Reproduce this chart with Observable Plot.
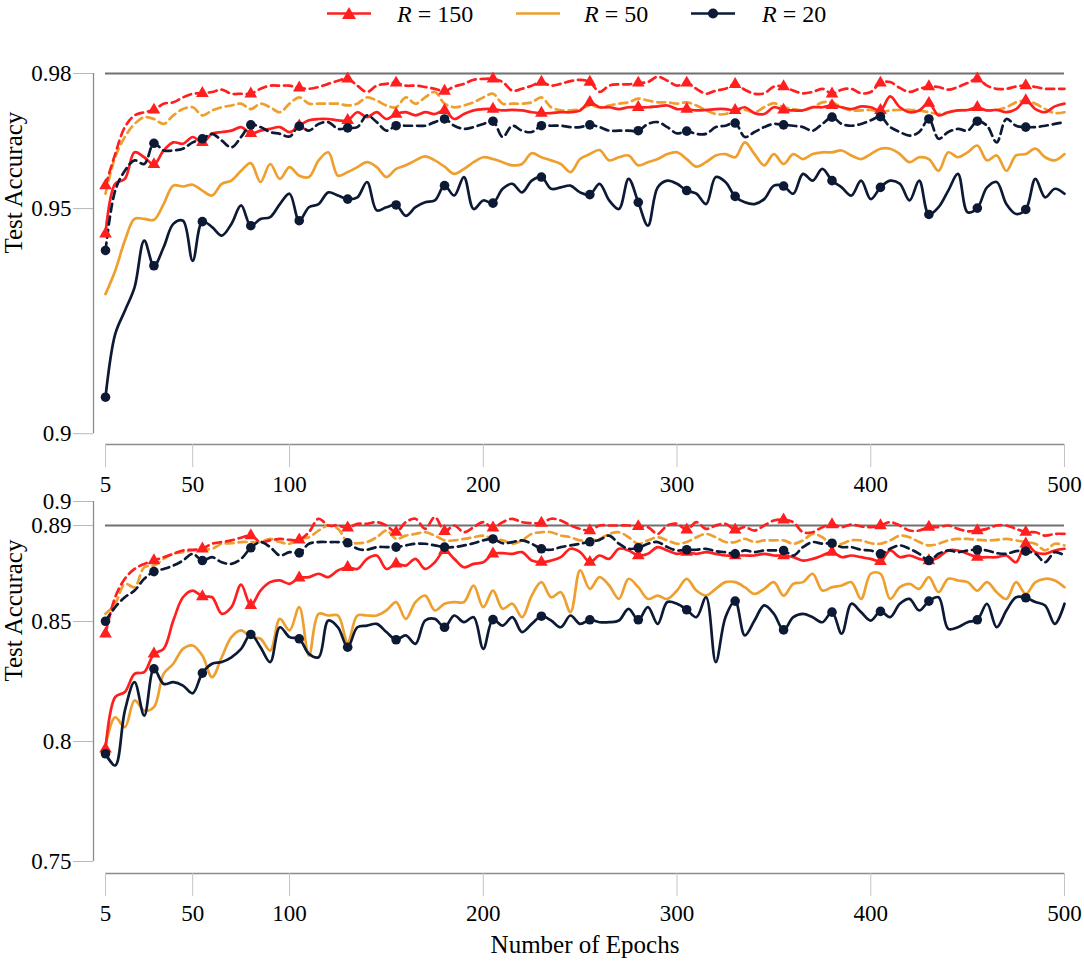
<!DOCTYPE html>
<html><head><meta charset="utf-8">
<script src="https://cdn.jsdelivr.net/npm/d3@7"></script>
<script src="https://cdn.jsdelivr.net/npm/@observablehq/plot@0.6"></script>
<style>
body{margin:0;background:#fff;}
#wrap{position:relative;width:1084px;height:965px;font-family:"Liberation Serif",serif;overflow:hidden;}
#legend{position:absolute;top:0;left:0;width:1084px;height:30px;}
.lg{position:absolute;top:0;height:28px;font-size:24px;line-height:28px;color:#000;white-space:nowrap;}
.sw{position:absolute;top:0;}
#top,#bot{position:absolute;left:0;}
#top{top:40px;}
#bot{top:480px;}
</style></head>
<body><div id="wrap"><div id="legend"></div><div id="top"></div><div id="bot"></div></div>
<script>
const epochs = [5,10,15,20,25,30,35,40,45,50,55,60,65,70,75,80,85,90,95,100,
105,110,115,120,125,130,135,140,145,150,155,160,165,170,175,180,185,190,195,200,
205,210,215,220,225,230,235,240,245,250,255,260,265,270,275,280,285,290,295,300,
305,310,315,320,325,330,335,340,345,350,355,360,365,370,375,380,385,390,395,400,
405,410,415,420,425,430,435,440,445,450,455,460,465,470,475,480,485,490,495,500];
const markerEpochs = [5,30,55,80,105,130,155,180,205,230,255,280,305,330,355,380,405,430,455,480];
const xTicks = [5,50,100,200,300,400,500];
const topYTicks = [0.9,0.95,0.98];
const botYTicks = [0.75,0.8,0.85,0.89,0.9];
const topRef = 0.98;
const botRef = 0.89;
const rValues = [150,50,20];
const rColors = ["#ff1f1f","#ee9f2d","#0d1a35"];
const rSymbols = ["triangle",null,"circle"];

// Top panel (upper chart)
const top150Dashed = [0.9551,0.9621,0.9681,0.9707,0.9714,0.9719,0.9733,0.9736,0.9747,0.9755,
0.9756,0.9759,0.9764,0.9755,0.9755,0.9755,0.9766,0.9773,0.9773,0.9773,
0.9768,0.9766,0.9770,0.9777,0.9784,0.9788,0.9773,0.9759,0.9773,0.9777,
0.9779,0.9773,0.9773,0.9770,0.9766,0.9761,0.9771,0.9777,0.9786,0.9788,
0.9788,0.9781,0.9762,0.9766,0.9773,0.9781,0.9773,0.9777,0.9783,0.9786,
0.9781,0.9759,0.9773,0.9776,0.9776,0.9779,0.9781,0.9793,0.9784,0.9773,
0.9779,0.9766,0.9755,0.9762,0.9766,0.9776,0.9764,0.9755,0.9756,0.9771,
0.9771,0.9762,0.9756,0.9759,0.9766,0.9755,0.9764,0.9766,0.9756,0.9759,
0.9779,0.9781,0.9768,0.9759,0.9766,0.9771,0.9770,0.9764,0.9770,0.9779,
0.9788,0.9773,0.9766,0.9766,0.9771,0.9773,0.9770,0.9766,0.9766,0.9766];
const top150Solid = [0.9444,0.9555,0.9566,0.9625,0.9614,0.9598,0.9629,0.9647,0.9644,0.9659,
0.9647,0.9666,0.9670,0.9673,0.9681,0.9667,0.9673,0.9677,0.9681,0.9670,
0.9684,0.9696,0.9699,0.9699,0.9696,0.9696,0.9714,0.9703,0.9714,0.9699,
0.9710,0.9714,0.9707,0.9714,0.9710,0.9718,0.9699,0.9710,0.9718,0.9721,
0.9721,0.9718,0.9719,0.9718,0.9714,0.9712,0.9712,0.9714,0.9714,0.9718,
0.9736,0.9725,0.9725,0.9721,0.9725,0.9725,0.9725,0.9727,0.9729,0.9721,
0.9721,0.9718,0.9719,0.9721,0.9721,0.9718,0.9725,0.9712,0.9710,0.9725,
0.9719,0.9718,0.9718,0.9725,0.9725,0.9729,0.9725,0.9721,0.9727,0.9725,
0.9718,0.9749,0.9725,0.9714,0.9718,0.9734,0.9707,0.9714,0.9718,0.9719,
0.9725,0.9718,0.9719,0.9714,0.9721,0.9740,0.9721,0.9714,0.9727,0.9733];
const top50Dashed = [0.9533,0.9614,0.9659,0.9688,0.9703,0.9699,0.9688,0.9707,0.9721,0.9725,
0.9707,0.9718,0.9725,0.9729,0.9733,0.9721,0.9733,0.9725,0.9714,0.9733,
0.9747,0.9733,0.9733,0.9733,0.9733,0.9729,0.9733,0.9747,0.9740,0.9729,
0.9725,0.9747,0.9733,0.9747,0.9759,0.9733,0.9725,0.9729,0.9736,0.9747,
0.9755,0.9733,0.9733,0.9733,0.9736,0.9747,0.9725,0.9718,0.9718,0.9721,
0.9729,0.9725,0.9729,0.9733,0.9736,0.9744,0.9740,0.9736,0.9736,0.9733,
0.9736,0.9729,0.9718,0.9710,0.9710,0.9719,0.9719,0.9714,0.9725,0.9734,
0.9725,0.9721,0.9718,0.9725,0.9736,0.9736,0.9725,0.9718,0.9718,0.9719,
0.9714,0.9718,0.9719,0.9719,0.9718,0.9714,0.9710,0.9714,0.9718,0.9719,
0.9721,0.9718,0.9719,0.9725,0.9736,0.9740,0.9733,0.9721,0.9712,0.9714];
const top50Solid = [0.9310,0.9362,0.9429,0.9477,0.9477,0.9475,0.9510,0.9551,0.9549,0.9553,
0.9540,0.9529,0.9555,0.9562,0.9584,0.9601,0.9559,0.9599,0.9566,0.9592,
0.9573,0.9570,0.9607,0.9625,0.9573,0.9581,0.9592,0.9603,0.9592,0.9570,
0.9588,0.9596,0.9607,0.9616,0.9607,0.9593,0.9577,0.9588,0.9603,0.9614,
0.9610,0.9603,0.9596,0.9599,0.9623,0.9614,0.9607,0.9599,0.9581,0.9610,
0.9621,0.9630,0.9607,0.9614,0.9618,0.9596,0.9603,0.9610,0.9621,0.9625,
0.9610,0.9593,0.9603,0.9618,0.9621,0.9614,0.9647,0.9621,0.9596,0.9621,
0.9599,0.9621,0.9610,0.9621,0.9625,0.9625,0.9629,0.9618,0.9610,0.9621,
0.9633,0.9633,0.9621,0.9603,0.9614,0.9610,0.9584,0.9625,0.9614,0.9625,
0.9640,0.9607,0.9618,0.9584,0.9618,0.9621,0.9633,0.9614,0.9607,0.9621];
const top20Dashed = [0.9407,0.9540,0.9584,0.9607,0.9599,0.9645,0.9629,0.9629,0.9633,0.9647,
0.9655,0.9666,0.9651,0.9636,0.9659,0.9686,0.9681,0.9670,0.9666,0.9660,
0.9683,0.9673,0.9688,0.9692,0.9677,0.9679,0.9681,0.9707,0.9692,0.9673,
0.9684,0.9684,0.9684,0.9684,0.9692,0.9699,0.9684,0.9677,0.9681,0.9688,
0.9694,0.9659,0.9684,0.9673,0.9670,0.9684,0.9684,0.9684,0.9681,0.9681,
0.9686,0.9681,0.9673,0.9673,0.9673,0.9673,0.9688,0.9692,0.9681,0.9667,
0.9672,0.9666,0.9666,0.9681,0.9684,0.9690,0.9659,0.9670,0.9681,0.9688,
0.9686,0.9684,0.9681,0.9673,0.9688,0.9703,0.9688,0.9684,0.9688,0.9696,
0.9704,0.9681,0.9670,0.9662,0.9670,0.9699,0.9655,0.9670,0.9677,0.9673,
0.9694,0.9684,0.9647,0.9699,0.9684,0.9681,0.9681,0.9684,0.9688,0.9692];
const top20Solid = [0.9081,0.9221,0.9273,0.9325,0.9429,0.9373,0.9414,0.9466,0.9473,0.9384,
0.9471,0.9459,0.9440,0.9466,0.9507,0.9462,0.9477,0.9481,0.9510,0.9533,
0.9473,0.9503,0.9510,0.9536,0.9529,0.9521,0.9525,0.9559,0.9496,0.9503,
0.9508,0.9484,0.9503,0.9514,0.9518,0.9551,0.9529,0.9570,0.9499,0.9518,
0.9512,0.9544,0.9555,0.9536,0.9562,0.9570,0.9544,0.9547,0.9551,0.9536,
0.9531,0.9555,0.9518,0.9499,0.9566,0.9514,0.9462,0.9547,0.9562,0.9555,
0.9540,0.9533,0.9510,0.9570,0.9559,0.9527,0.9514,0.9510,0.9521,0.9551,
0.9550,0.9533,0.9577,0.9562,0.9588,0.9562,0.9547,0.9529,0.9562,0.9521,
0.9547,0.9562,0.9555,0.9518,0.9562,0.9487,0.9503,0.9540,0.9577,0.9492,
0.9501,0.9547,0.9559,0.9510,0.9488,0.9498,0.9566,0.9525,0.9544,0.9533];

// Bottom panel (lower chart)
const bot150Dashed = [0.8449,0.8601,0.8678,0.8719,0.8740,0.8754,0.8768,0.8782,0.8796,0.8799,
0.8803,0.8824,0.8831,0.8838,0.8849,0.8858,0.8831,0.8838,0.8844,0.8840,
0.8840,0.8872,0.8928,0.8900,0.8900,0.8890,0.8907,0.8907,0.8914,0.8900,
0.8872,0.8914,0.8928,0.8886,0.8935,0.8876,0.8900,0.8872,0.8893,0.8914,
0.8890,0.8914,0.8928,0.8914,0.8910,0.8910,0.8928,0.8921,0.8900,0.8886,
0.8879,0.8900,0.8900,0.8900,0.8900,0.8896,0.8893,0.8865,0.8900,0.8907,
0.8882,0.8914,0.8886,0.8900,0.8907,0.8882,0.8893,0.8879,0.8900,0.8921,
0.8924,0.8914,0.8872,0.8872,0.8893,0.8904,0.8893,0.8904,0.8896,0.8893,
0.8900,0.8914,0.8900,0.8879,0.8879,0.8893,0.8893,0.8900,0.8886,0.8876,
0.8879,0.8886,0.8900,0.8900,0.8886,0.8872,0.8872,0.8858,0.8865,0.8865];
const bot150Solid = [0.7969,0.8185,0.8206,0.8282,0.8289,0.8365,0.8386,0.8504,0.8601,0.8629,
0.8604,0.8601,0.8532,0.8560,0.8654,0.8567,0.8629,0.8664,0.8671,0.8657,
0.8682,0.8685,0.8699,0.8685,0.8713,0.8726,0.8719,0.8761,0.8775,0.8719,
0.8740,0.8733,0.8761,0.8719,0.8747,0.8796,0.8761,0.8726,0.8740,0.8747,
0.8782,0.8785,0.8782,0.8789,0.8754,0.8747,0.8754,0.8768,0.8803,0.8789,
0.8747,0.8775,0.8761,0.8803,0.8796,0.8775,0.8782,0.8810,0.8796,0.8782,
0.8789,0.8782,0.8789,0.8782,0.8775,0.8775,0.8775,0.8775,0.8782,0.8775,
0.8775,0.8768,0.8754,0.8761,0.8775,0.8789,0.8768,0.8775,0.8768,0.8761,
0.8751,0.8796,0.8768,0.8775,0.8761,0.8754,0.8768,0.8796,0.8796,0.8782,
0.8768,0.8768,0.8768,0.8775,0.8747,0.8824,0.8789,0.8782,0.8796,0.8803];
const bot50Dashed = [0.8532,0.8574,0.8657,0.8643,0.8726,0.8733,0.8761,0.8782,0.8789,0.8796,
0.8799,0.8803,0.8824,0.8826,0.8831,0.8831,0.8831,0.8844,0.8831,0.8824,
0.8844,0.8851,0.8879,0.8900,0.8886,0.8831,0.8826,0.8831,0.8851,0.8879,
0.8844,0.8858,0.8865,0.8872,0.8858,0.8838,0.8838,0.8844,0.8851,0.8858,
0.8844,0.8838,0.8824,0.8838,0.8865,0.8872,0.8872,0.8858,0.8851,0.8838,
0.8838,0.8844,0.8865,0.8872,0.8851,0.8824,0.8838,0.8851,0.8838,0.8824,
0.8831,0.8851,0.8865,0.8851,0.8831,0.8831,0.8844,0.8831,0.8838,0.8838,
0.8838,0.8824,0.8838,0.8865,0.8851,0.8817,0.8824,0.8838,0.8838,0.8826,
0.8824,0.8838,0.8858,0.8851,0.8831,0.8817,0.8824,0.8838,0.8844,0.8844,
0.8840,0.8838,0.8840,0.8844,0.8838,0.8831,0.8824,0.8796,0.8824,0.8817];
const bot50Solid = [0.7983,0.8101,0.8060,0.8171,0.8129,0.8143,0.8282,0.8324,0.8386,0.8400,
0.8358,0.8268,0.8351,0.8435,0.8463,0.8435,0.8428,0.8379,0.8511,0.8463,
0.8560,0.8358,0.8532,0.8525,0.8525,0.8414,0.8525,0.8525,0.8525,0.8546,
0.8581,0.8511,0.8581,0.8608,0.8546,0.8574,0.8581,0.8581,0.8650,0.8560,
0.8629,0.8553,0.8574,0.8518,0.8608,0.8664,0.8601,0.8622,0.8539,0.8713,
0.8636,0.8685,0.8650,0.8594,0.8678,0.8643,0.8594,0.8608,0.8594,0.8629,
0.8678,0.8629,0.8608,0.8636,0.8664,0.8664,0.8643,0.8615,0.8636,0.8664,
0.8608,0.8657,0.8664,0.8699,0.8629,0.8643,0.8650,0.8664,0.8594,0.8699,
0.8699,0.8594,0.8643,0.8657,0.8636,0.8685,0.8622,0.8678,0.8671,0.8664,
0.8629,0.8664,0.8622,0.8594,0.8664,0.8615,0.8664,0.8678,0.8671,0.8643];
const bot20Dashed = [0.8501,0.8560,0.8601,0.8629,0.8678,0.8708,0.8719,0.8733,0.8754,0.8782,
0.8754,0.8768,0.8747,0.8740,0.8761,0.8807,0.8831,0.8810,0.8775,0.8789,
0.8786,0.8824,0.8831,0.8831,0.8831,0.8828,0.8803,0.8799,0.8810,0.8810,
0.8810,0.8817,0.8824,0.8824,0.8817,0.8810,0.8810,0.8817,0.8826,0.8838,
0.8844,0.8826,0.8831,0.8838,0.8824,0.8803,0.8799,0.8810,0.8817,0.8824,
0.8832,0.8840,0.8858,0.8824,0.8803,0.8807,0.8824,0.8831,0.8810,0.8796,
0.8799,0.8799,0.8803,0.8793,0.8789,0.8782,0.8796,0.8789,0.8796,0.8796,
0.8796,0.8775,0.8810,0.8831,0.8824,0.8826,0.8810,0.8810,0.8799,0.8796,
0.8782,0.8803,0.8817,0.8803,0.8782,0.8754,0.8782,0.8796,0.8789,0.8796,
0.8799,0.8796,0.8785,0.8782,0.8793,0.8793,0.8782,0.8747,0.8789,0.8775];
const bot20Solid = [0.7949,0.7900,0.8129,0.8247,0.8108,0.8303,0.8240,0.8247,0.8233,0.8201,
0.8285,0.8324,0.8331,0.8351,0.8386,0.8446,0.8393,0.8331,0.8476,0.8435,
0.8428,0.8365,0.8351,0.8504,0.8476,0.8393,0.8476,0.8483,0.8490,0.8456,
0.8424,0.8442,0.8407,0.8504,0.8511,0.8476,0.8525,0.8497,0.8518,0.8386,
0.8508,0.8483,0.8518,0.8456,0.8490,0.8522,0.8504,0.8476,0.8525,0.8490,
0.8507,0.8497,0.8497,0.8504,0.8553,0.8507,0.8560,0.8490,0.8581,0.8574,
0.8549,0.8518,0.8601,0.8331,0.8518,0.8585,0.8442,0.8504,0.8567,0.8532,
0.8465,0.8518,0.8532,0.8518,0.8497,0.8539,0.8449,0.8574,0.8539,0.8504,
0.8542,0.8518,0.8574,0.8594,0.8546,0.8585,0.8601,0.8469,0.8476,0.8497,
0.8507,0.8574,0.8476,0.8546,0.8601,0.8599,0.8581,0.8567,0.8490,0.8574];

const FONT = '"Liberation Serif", "Times New Roman", serif';

// ---------- legend ----------
(function legend(){
  const el = document.getElementById("legend");
  const swLeft = [327, 516, 691];
  const txLeft = [397, 584, 762];
  rValues.forEach((r, i) => {
    const c = rColors[i];
    let mk = "";
    if (rSymbols[i] === "triangle") mk = `<path d="M22,7 L29,19 L15,19 Z" fill="${c}"/>`;
    if (rSymbols[i] === "circle") mk = `<circle cx="22" cy="13.5" r="5" fill="${c}"/>`;
    const sw = document.createElement("div");
    sw.className = "sw";
    sw.style.left = swLeft[i] + "px";
    sw.innerHTML = `<svg width="44" height="28"><line x1="0" y1="13.5" x2="44" y2="13.5" stroke="${c}" stroke-width="2.6"/>${mk}</svg>`;
    el.appendChild(sw);
    const tx = document.createElement("div");
    tx.className = "lg";
    tx.style.left = txLeft[i] + "px";
    tx.innerHTML = `<i>R</i> = ${r}`;
    el.appendChild(tx);
  });
})();

function rows(values) { return epochs.map((e, i) => ({e, v: values[i]})); }

function panel({series, yDomain, yTicks, ref, height, marginTop, marginBottom, xLabel}) {
  const marks = [];
  marks.push(Plot.ruleY([ref], {stroke: "#707070", strokeWidth: 1.8}));
  marks.push(Plot.ruleY([yDomain[0]], {stroke: "#8c8c8c", strokeWidth: 1.4}));
  marks.push(Plot.ruleX([epochs[0]], {y1: yTicks[0], y2: yTicks[yTicks.length - 1], dx: -12, stroke: "#8c8c8c", strokeWidth: 1.3}));
  marks.push(Plot.axisX({ticks: xTicks, tickSize: 23, tickPadding: 8, stroke: "#c4c4c4", fill: "#000", fontSize: 23, label: null, tickFormat: d => String(d)}));
  marks.push(Plot.axisY({ticks: yTicks, tickSize: 20, tickPadding: 2, dx: -12, stroke: "#b8b8b8", fill: "#000", fontSize: 23, label: null, tickFormat: d => String(d)}));
  marks.push(Plot.text(["Test Accuracy"], {frameAnchor: "left", y: [(yTicks[0] + yTicks[yTicks.length - 1]) / 2], text: d => d, rotate: -90, dx: -92, fontSize: 25, fill: "#000"}));
  if (xLabel) marks.push(Plot.text([xLabel], {frameAnchor: "bottom", text: d => d, dy: 79, fontSize: 25, fill: "#000"}));
  // order: orange, red, navy
  const order = [1, 0, 2];
  for (const i of order) {
    for (const dashed of [true, false]) {
      const s = series[i][dashed ? 0 : 1];
      marks.push(Plot.line(rows(s), {x: "e", y: "v", stroke: rColors[i], strokeWidth: 2.7,
        strokeDasharray: dashed ? "8,5" : null, curve: "catmull-rom"}));
    }
  }
  for (const i of order) {
    if (!rSymbols[i]) continue;
    for (const s of series[i]) {
      const pts = rows(s).filter(d => markerEpochs.includes(d.e));
      marks.push(Plot.dot(pts, {x: "e", y: "v", symbol: rSymbols[i], r: rSymbols[i] === "triangle" ? 4.7 : 4.8, fill: rColors[i]}));
    }
  }
  return Plot.plot({
    width: 1084, height, marginLeft: 105, marginRight: 20, marginTop, marginBottom,
    x: {domain: [epochs[0], epochs[epochs.length - 1]]},
    y: {domain: yDomain},
    style: {fontFamily: FONT, fontSize: "23px", background: "transparent", overflow: "visible", color: "#000"},
    marks
  });
}

document.getElementById("top").appendChild(panel({
  series: [[top150Dashed, top150Solid], [top50Dashed, top50Solid], [top20Dashed, top20Solid]],
  yDomain: [0.8976, 0.98], yTicks: topYTicks, ref: topRef,
  height: 465, marginTop: 33, marginBottom: 61
}));
document.getElementById("bot").appendChild(panel({
  series: [[bot150Dashed, bot150Solid], [bot50Dashed, bot50Solid], [bot20Dashed, bot20Solid]],
  yDomain: [0.745, 0.9], yTicks: botYTicks, ref: botRef,
  height: 485, marginTop: 21, marginBottom: 92, xLabel: "Number of Epochs"
}));
</script>
</body></html>
